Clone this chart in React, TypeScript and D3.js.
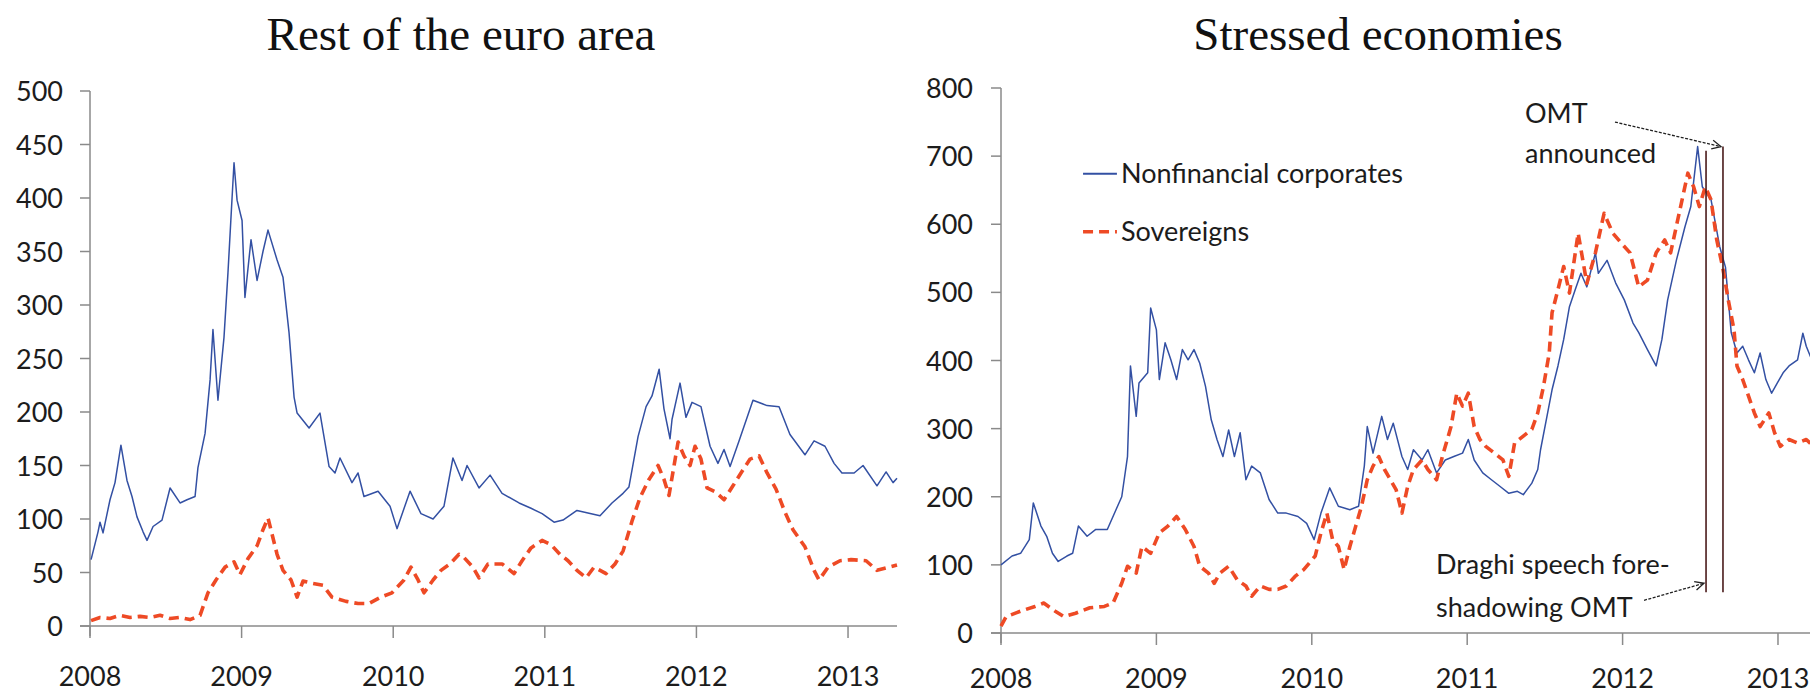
import React from "react";
import * as d3 from "d3";

// ---------- data (decimal year, spread in basis points) ----------
const yearTicks = [2008, 2009, 2010, 2011, 2012, 2013];
const leftYTicks = [0, 50, 100, 150, 200, 250, 300, 350, 400, 450, 500];
const rightYTicks = [0, 100, 200, 300, 400, 500, 600, 700, 800];
const panelTitles = ["Rest of the euro area", "Stressed economies"];
const legendLabels = ["Nonfinancial corporates", "Sovereigns"];

const restCorporates: [number, number][] = [
  [2008.007, 62], [2008.053, 88], [2008.066, 97], [2008.086, 87], [2008.132, 118], [2008.165, 134],
  [2008.204, 169], [2008.244, 136], [2008.277, 121], [2008.31, 102], [2008.35, 88], [2008.376, 80],
  [2008.416, 93], [2008.475, 99], [2008.528, 129], [2008.594, 115], [2008.64, 118], [2008.693, 121],
  [2008.712, 148], [2008.759, 180], [2008.792, 230], [2008.811, 277], [2008.844, 211], [2008.884, 270],
  [2008.91, 330], [2008.937, 400], [2008.95, 433], [2008.97, 398], [2009.003, 379], [2009.022, 307],
  [2009.062, 361], [2009.102, 323], [2009.141, 350], [2009.174, 370], [2009.234, 342], [2009.273, 326],
  [2009.313, 274], [2009.346, 214], [2009.366, 199], [2009.445, 185], [2009.517, 199], [2009.577, 149],
  [2009.616, 143], [2009.649, 157], [2009.728, 134], [2009.768, 143], [2009.807, 121], [2009.9, 126],
  [2009.979, 112], [2010.025, 91], [2010.111, 126], [2010.183, 105], [2010.263, 100], [2010.335, 112],
  [2010.394, 157], [2010.454, 136], [2010.487, 150], [2010.566, 129], [2010.639, 141], [2010.718, 124],
  [2010.83, 115], [2010.909, 110], [2010.982, 105], [2011.061, 97], [2011.12, 99], [2011.212, 108],
  [2011.364, 103], [2011.443, 115], [2011.516, 124], [2011.555, 130], [2011.615, 177], [2011.668, 205],
  [2011.707, 215], [2011.754, 240], [2011.786, 203], [2011.826, 175], [2011.839, 193], [2011.892, 227],
  [2011.931, 195], [2011.971, 209], [2012.03, 205], [2012.09, 168], [2012.142, 152], [2012.182, 165],
  [2012.222, 149], [2012.281, 173], [2012.373, 211], [2012.466, 206], [2012.545, 205], [2012.617, 179],
  [2012.716, 160], [2012.776, 173], [2012.848, 168], [2012.908, 152], [2012.96, 143], [2013.04, 143],
  [2013.099, 150], [2013.191, 131], [2013.251, 144], [2013.297, 134], [2013.323, 138],
];

const restSovereigns: [number, number][] = [
  [2008.007, 5], [2008.066, 8], [2008.132, 7], [2008.198, 10], [2008.264, 8], [2008.33, 9],
  [2008.396, 8], [2008.462, 10], [2008.528, 7], [2008.594, 8], [2008.66, 6], [2008.726, 10],
  [2008.778, 31], [2008.831, 43], [2008.891, 55], [2008.95, 60], [2008.989, 48], [2009.042, 63],
  [2009.102, 75], [2009.141, 90], [2009.174, 101], [2009.234, 67], [2009.273, 52], [2009.326, 43],
  [2009.366, 27], [2009.405, 42], [2009.464, 40], [2009.537, 38], [2009.596, 27], [2009.689, 23],
  [2009.768, 21], [2009.84, 21], [2009.919, 27], [2009.992, 31], [2010.071, 43], [2010.117, 55],
  [2010.164, 43], [2010.203, 31], [2010.263, 43], [2010.315, 52], [2010.375, 58], [2010.434, 67],
  [2010.467, 64], [2010.526, 55], [2010.566, 45], [2010.625, 58], [2010.718, 58], [2010.797, 49],
  [2010.85, 61], [2010.909, 73], [2010.982, 80], [2011.041, 76], [2011.1, 67], [2011.153, 61],
  [2011.212, 52], [2011.272, 45], [2011.325, 55], [2011.404, 49], [2011.463, 58], [2011.516, 70],
  [2011.575, 98], [2011.628, 120], [2011.687, 137], [2011.747, 150], [2011.786, 137], [2011.819, 122],
  [2011.879, 172], [2011.918, 159], [2011.958, 150], [2011.991, 168], [2012.03, 156], [2012.07, 129],
  [2012.129, 125], [2012.182, 118], [2012.241, 131], [2012.294, 143], [2012.354, 156], [2012.413, 159],
  [2012.466, 143], [2012.525, 128], [2012.585, 106], [2012.637, 90], [2012.716, 74], [2012.776, 52],
  [2012.809, 43], [2012.868, 55], [2012.947, 61], [2013.02, 62], [2013.119, 61], [2013.191, 52],
  [2013.27, 55], [2013.323, 57],
];

const stressedCorporates: [number, number][] = [
  [2008.0, 100], [2008.071, 113], [2008.126, 117], [2008.182, 137], [2008.208, 191], [2008.257, 157],
  [2008.294, 142], [2008.331, 117], [2008.368, 105], [2008.424, 113], [2008.461, 117], [2008.498, 157],
  [2008.554, 142], [2008.61, 152], [2008.684, 152], [2008.74, 181], [2008.777, 200], [2008.814, 259],
  [2008.833, 392], [2008.87, 318], [2008.888, 367], [2008.944, 382], [2008.963, 477], [2009.0, 445],
  [2009.019, 372], [2009.056, 426], [2009.093, 401], [2009.13, 372], [2009.167, 416], [2009.204, 401],
  [2009.242, 416], [2009.279, 396], [2009.316, 362], [2009.353, 313], [2009.39, 284], [2009.428, 259],
  [2009.465, 298], [2009.502, 259], [2009.539, 294], [2009.576, 225], [2009.613, 245], [2009.669, 235],
  [2009.725, 196], [2009.781, 176], [2009.836, 176], [2009.911, 171], [2009.967, 161], [2010.015, 137],
  [2010.059, 176], [2010.115, 213], [2010.171, 186], [2010.245, 181], [2010.301, 186], [2010.338, 245],
  [2010.357, 303], [2010.394, 264], [2010.45, 318], [2010.487, 284], [2010.524, 308], [2010.58, 259],
  [2010.617, 240], [2010.654, 269], [2010.71, 254], [2010.747, 269], [2010.803, 235], [2010.859, 254],
  [2010.914, 259], [2010.97, 264], [2011.007, 284], [2011.045, 254], [2011.1, 235], [2011.156, 225],
  [2011.212, 215], [2011.268, 205], [2011.323, 208], [2011.361, 203], [2011.416, 220], [2011.454, 240],
  [2011.472, 269], [2011.509, 313], [2011.546, 357], [2011.584, 392], [2011.621, 431], [2011.658, 479],
  [2011.695, 504], [2011.732, 528], [2011.77, 508], [2011.825, 558], [2011.844, 528], [2011.9, 547],
  [2011.955, 514], [2012.011, 489], [2012.067, 455], [2012.104, 441], [2012.16, 416], [2012.216, 392],
  [2012.253, 431], [2012.29, 489], [2012.346, 547], [2012.401, 596], [2012.439, 626], [2012.483, 714],
  [2012.513, 655], [2012.569, 636], [2012.625, 567], [2012.662, 537], [2012.699, 441], [2012.736, 411],
  [2012.773, 421], [2012.81, 401], [2012.848, 382], [2012.885, 411], [2012.922, 372], [2012.959, 352],
  [2012.996, 367], [2013.033, 382], [2013.071, 392], [2013.126, 401], [2013.16, 440], [2013.182, 421],
  [2013.21, 405],
];

const stressedSovereigns: [number, number][] = [
  [2008.0, 10], [2008.033, 24], [2008.126, 32], [2008.219, 39], [2008.275, 44], [2008.349, 32],
  [2008.405, 24], [2008.48, 29], [2008.572, 37], [2008.665, 39], [2008.721, 44], [2008.777, 73],
  [2008.814, 98], [2008.87, 88], [2008.907, 127], [2008.963, 117], [2009.019, 147], [2009.074, 157],
  [2009.13, 171], [2009.186, 152], [2009.242, 127], [2009.279, 98], [2009.335, 88], [2009.372, 73],
  [2009.409, 88], [2009.465, 98], [2009.52, 78], [2009.576, 69], [2009.613, 54], [2009.669, 69],
  [2009.725, 64], [2009.781, 64], [2009.836, 69], [2009.892, 83], [2009.948, 93], [2009.985, 103],
  [2010.022, 113], [2010.059, 147], [2010.097, 176], [2010.134, 137], [2010.171, 127], [2010.208, 93],
  [2010.245, 127], [2010.283, 157], [2010.32, 186], [2010.357, 225], [2010.394, 245], [2010.431, 259],
  [2010.468, 240], [2010.506, 225], [2010.543, 210], [2010.58, 176], [2010.617, 215], [2010.654, 240],
  [2010.71, 254], [2010.747, 240], [2010.803, 225], [2010.84, 259], [2010.896, 303], [2010.933, 352],
  [2010.97, 333], [2011.007, 352], [2011.045, 303], [2011.082, 284], [2011.119, 274], [2011.175, 264],
  [2011.23, 254], [2011.268, 230], [2011.305, 279], [2011.361, 289], [2011.416, 299], [2011.454, 323],
  [2011.491, 362], [2011.528, 411], [2011.546, 470], [2011.584, 504], [2011.621, 538], [2011.658, 499],
  [2011.714, 587], [2011.77, 513], [2011.825, 558], [2011.881, 616], [2011.937, 587], [2011.993, 572],
  [2012.048, 558], [2012.104, 508], [2012.16, 518], [2012.216, 558], [2012.271, 577], [2012.309, 558],
  [2012.364, 616], [2012.42, 675], [2012.457, 655], [2012.494, 626], [2012.532, 655], [2012.569, 636],
  [2012.606, 577], [2012.643, 538], [2012.68, 489], [2012.717, 445], [2012.736, 392], [2012.773, 372],
  [2012.81, 348], [2012.848, 323], [2012.885, 303], [2012.941, 323], [2012.978, 294], [2013.015, 274],
  [2013.071, 284], [2013.126, 279], [2013.182, 284], [2013.21, 278],
];

// event lines (decimal year, from value, to value)
const eventYears = [2012.537, 2012.646];
const eventTops = [708, 714];
const eventBottom = 60;

// ---------- styles ----------
const BLUE = "#3350a3";
const RED = "#ee4a25";
const AXIS = "#8a8a8a";
const TEXT = "#1c1c1c";
const SANS = "Lato, 'Open Sans', sans-serif";
const SERIF = "'Liberation Serif', 'Times New Roman', serif";
const FS = 27;

type Pt = [number, number];

function Panel(props: {
  xDomain: [number, number];
  xRange: [number, number];
  yMax: number;
  yRange: [number, number];
  yTicks: number[];
  labelRight: number;
  xLabelY: number;
  title: string;
  titleX: number;
  corp: Pt[];
  sov: Pt[];
  children?: (x: d3.ScaleLinear<number, number>, y: d3.ScaleLinear<number, number>) => React.ReactNode;
}) {
  const x = d3.scaleLinear().domain(props.xDomain).range(props.xRange);
  const y = d3.scaleLinear().domain([0, props.yMax]).range(props.yRange);
  const line = d3
    .line<Pt>()
    .x((d) => x(d[0]))
    .y((d) => y(d[1]));
  const x0 = props.xRange[0];
  const y0 = props.yRange[0];
  return (
    <g>
      <text x={props.titleX} y={50} textAnchor="middle" fontFamily={SERIF} fontSize={47} fill="#111">
        {props.title}
      </text>
      {/* y axis */}
      <line x1={x0} x2={x0} y1={y0 + 10} y2={y(props.yMax)} stroke={AXIS} strokeWidth={1.5} />
      {props.yTicks.map((t) => (
        <g key={t}>
          <line x1={x0 - 10} x2={x0} y1={y(t)} y2={y(t)} stroke={AXIS} strokeWidth={1.5} />
          <text x={props.labelRight} y={y(t) + 10} textAnchor="end" fontFamily={SANS} fontSize={FS} fill={TEXT}>
            {t}
          </text>
        </g>
      ))}
      {/* x axis */}
      <line x1={x0 - 10} x2={props.xRange[1]} y1={y0} y2={y0} stroke={AXIS} strokeWidth={1.5} />
      {yearTicks.map((t) => (
        <g key={t}>
          <line x1={x(t)} x2={x(t)} y1={y0} y2={y0 + 12} stroke={AXIS} strokeWidth={1.5} />
          <text x={x(t)} y={props.xLabelY} textAnchor="middle" fontFamily={SANS} fontSize={FS} fill={TEXT}>
            {t}
          </text>
        </g>
      ))}
      <path d={line(props.corp) || ""} fill="none" stroke={BLUE} strokeWidth={1.5} strokeLinejoin="round" />
      <path
        d={line(props.sov) || ""}
        fill="none"
        stroke={RED}
        strokeWidth={3.6}
        strokeDasharray="10,6"
        strokeLinejoin="round"
      />
      {props.children ? props.children(x, y) : null}
    </g>
  );
}

function Arrow(props: { x1: number; y1: number; x2: number; y2: number }) {
  const { x1, y1, x2, y2 } = props;
  const a = Math.atan2(y2 - y1, x2 - x1);
  const L = 10;
  const w = 0.45;
  const p1 = [x2 - L * Math.cos(a - w), y2 - L * Math.sin(a - w)];
  const p2 = [x2 - L * Math.cos(a + w), y2 - L * Math.sin(a + w)];
  return (
    <g>
      <line x1={x1} y1={y1} x2={x2} y2={y2} stroke="#222" strokeWidth={1.3} strokeDasharray="3,1.5" />
      <polyline points={`${p1[0]},${p1[1]} ${x2},${y2} ${p2[0]},${p2[1]}`} fill="none" stroke="#222" strokeWidth={1.3} />
    </g>
  );
}

export default function App() {
  return (
    <svg
      width={1810}
      height={695}
      style={{ position: "absolute", left: 0, top: 0, background: "#fff" }}
    >
      <rect x={0} y={0} width={1810} height={695} fill="#fff" />
      <Panel
        xDomain={[2008, 2013.323]}
        xRange={[90, 897]}
        yMax={500}
        yRange={[626, 91]}
        yTicks={leftYTicks}
        labelRight={63}
        xLabelY={686}
        title={panelTitles[0]}
        titleX={461}
        corp={restCorporates}
        sov={restSovereigns}
      />
      <Panel
        xDomain={[2008, 2013.206]}
        xRange={[1001, 1810]}
        yMax={800}
        yRange={[633, 88]}
        yTicks={rightYTicks}
        labelRight={973}
        xLabelY={688}
        title={panelTitles[1]}
        titleX={1378}
        corp={stressedCorporates}
        sov={stressedSovereigns}
      >
        {(x, y) => (
          <g>
            {eventYears.map((ev, i) => (
              <line
                key={ev}
                x1={x(ev)}
                x2={x(ev)}
                y1={y(eventBottom)}
                y2={y(eventTops[i])}
                stroke="#4a1a1a"
                strokeWidth={1.6}
              />
            ))}
            {/* legend */}
            <line x1={x(2008.528)} x2={x(2008.746)} y1={y(674)} y2={y(674)} stroke={BLUE} strokeWidth={2} />
            <text x={x(2008.772)} y={y(674) + 9} fontFamily={SANS} fontSize={FS} fill={TEXT}>
              {legendLabels[0]}
            </text>
            <line
              x1={x(2008.528)}
              x2={x(2008.746)}
              y1={y(589)}
              y2={y(589)}
              stroke={RED}
              strokeWidth={3.6}
              strokeDasharray="10,6"
            />
            <text x={x(2008.772)} y={y(589) + 9} fontFamily={SANS} fontSize={FS} fill={TEXT}>
              {legendLabels[1]}
            </text>
            {/* annotations */}
            <text x={x(2011.372)} y={y(749)} fontFamily={SANS} fontSize={FS} fill={TEXT}>OMT</text>
            <text x={x(2011.372)} y={y(690)} fontFamily={SANS} fontSize={FS} fill={TEXT}>announced</text>
            <Arrow x1={x(2011.951)} y1={y(750)} x2={x(2012.633)} y2={y(714)} />
            <text x={x(2010.799)} y={y(87)} fontFamily={SANS} fontSize={FS} fill={TEXT}>Draghi speech fore-</text>
            <text x={x(2010.799)} y={y(23)} fontFamily={SANS} fontSize={FS} fill={TEXT}>shadowing OMT</text>
            <Arrow x1={x(2012.138)} y1={y(48)} x2={x(2012.524)} y2={y(73)} />
          </g>
        )}
      </Panel>
    </svg>
  );
}
